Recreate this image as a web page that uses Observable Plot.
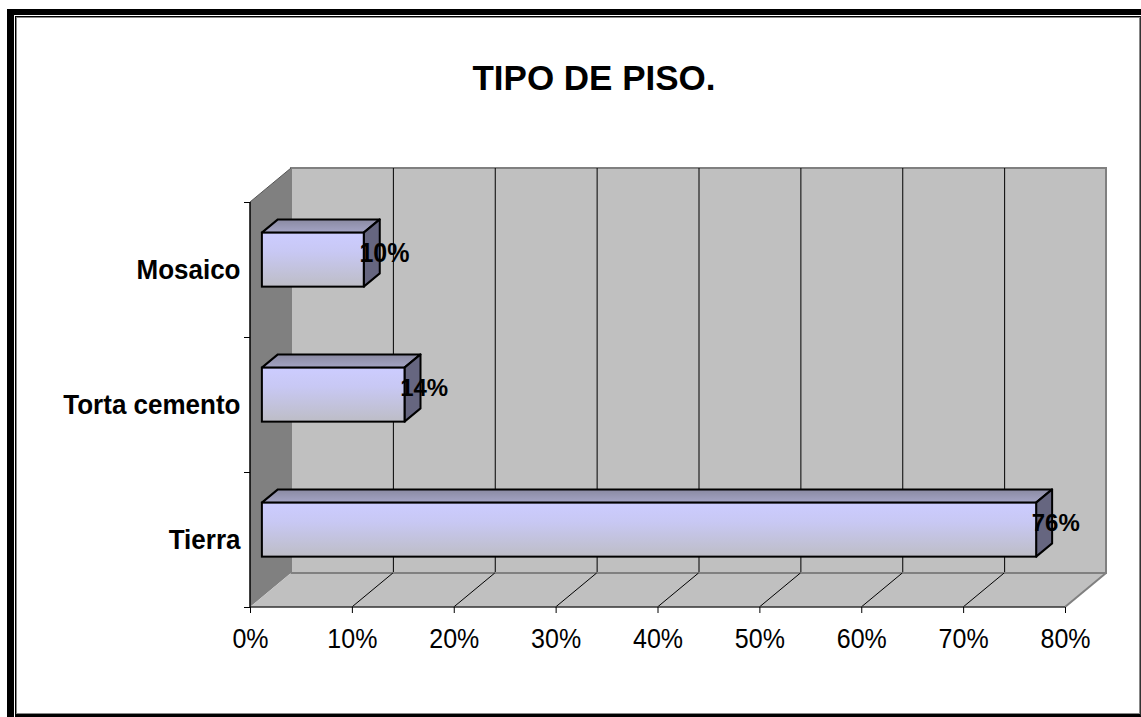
<!DOCTYPE html>
<html>
<head>
<meta charset="utf-8">
<script src="https://cdn.jsdelivr.net/npm/d3@7"></script>
<script src="https://cdn.jsdelivr.net/npm/@observablehq/plot@0.6"></script>
<style>
  html, body { margin: 0; padding: 0; background: #fff; }
  #wrap { position: relative; width: 1141px; height: 717px; overflow: hidden; font-family: "Liberation Sans", Arial, sans-serif; }
  #chart { position: absolute; left: 0; top: 0; }
  #title { position: absolute; left: 0; top: 60px; width: 1188px; text-align: center; font: bold 35px/35px "Liberation Sans", Arial, sans-serif; color: #000; }
  #outer { position: absolute; left: 7px; top: 9px; width: 1300px; height: 900px; box-sizing: border-box; border-left: 7px solid #000; border-top: 6px solid #000; }
  #inner { position: absolute; left: 15px; top: 16px; width: 1126px; height: 701px; box-sizing: border-box;
           border-left: 1px solid #000; border-top: 1px solid #000; border-right: 1px solid #333; border-bottom: 3px solid #000;
           box-shadow: inset 1px 1px 0 #888, inset -1px -1px 0 #888; }
</style>
</head>
<body>
<div id="wrap">
  <div id="chart"></div>
  <div id="title"></div>
  <div id="outer"></div>
  <div id="inner"></div>
</div>
<script>
// ---- data ----
const title = "TIPO DE PISO.";
const categories = ["Mosaico", "Torta cemento", "Tierra"];
const values = [0.10, 0.14, 0.76];
const valueLabels = ["10%", "14%", "76%"];
const xTicks = [0, 0.1, 0.2, 0.3, 0.4, 0.5, 0.6, 0.7, 0.8];
const xTickLabels = ["0%", "10%", "20%", "30%", "40%", "50%", "60%", "70%", "80%"];

document.getElementById("title").textContent = title;

const n = categories.length;
const rows = categories.map((c, i) => ({category: c, value: values[i], label: valueLabels[i], pos: n - i - 0.5}));
const gridTicks = xTicks.slice(1, -1);

// 3-D depth vector (pixels) and bar depth fraction
const DX = 41, DY = -34;
const F0 = 0.29, F1 = 0.68;
const HALF = 0.2; // half bar thickness in band units

const defs = () => {
  const d = d3.create("svg:defs");
  const g1 = d.append("linearGradient").attr("id", "barFront").attr("x1", 0).attr("y1", 0).attr("x2", 0).attr("y2", 1);
  g1.append("stop").attr("offset", "0%").attr("stop-color", "#ccccff");
  g1.append("stop").attr("offset", "35%").attr("stop-color", "#c8c8f4");
  g1.append("stop").attr("offset", "100%").attr("stop-color", "#bdbdc6");
  const g2 = d.append("linearGradient").attr("id", "barTop").attr("x1", 0).attr("y1", 0).attr("x2", 0).attr("y2", 1);
  g2.append("stop").attr("offset", "0%").attr("stop-color", "#8a8aa2");
  g2.append("stop").attr("offset", "100%").attr("stop-color", "#a4a4c4");
  return d.node();
};

const walls = (index, scales) => {
  const x = scales.x, y = scales.y;
  const x0 = x(xTicks[0]), x1 = x(xTicks[xTicks.length - 1]);
  const yb = y(0), yt = y(n);
  const g = d3.create("svg:g");
  const pts = a => a.map(p => p.join(",")).join(" ");
  g.append("polygon").attr("points", pts([[x0, yt], [x0 + DX, yt + DY], [x0 + DX, yb + DY], [x0, yb]]))
    .attr("fill", "#808080").attr("stroke", "none");
  g.append("line").attr("x1", x0).attr("y1", yt).attr("x2", x0 + DX).attr("y2", yt + DY).attr("stroke", "#555").attr("stroke-width", 1);
  g.append("polygon").attr("points", pts([[x0, yb], [x0 + DX, yb + DY], [x1 + DX, yb + DY], [x1, yb]]))
    .attr("fill", "#c0c0c0").attr("stroke", "none");
  g.append("line").attr("x1", x0 + DX).attr("y1", yb + DY).attr("x2", x1 + DX).attr("y2", yb + DY).attr("stroke", "#808080").attr("stroke-width", 2);
  g.append("line").attr("x1", x1 + DX).attr("y1", yb + DY).attr("x2", x1).attr("y2", yb).attr("stroke", "#808080").attr("stroke-width", 2);
  for (const t of gridTicks) {
    g.append("line").attr("x1", x(t) + DX).attr("y1", yb + DY).attr("x2", x(t)).attr("y2", yb).attr("stroke", "#000").attr("stroke-width", 1);
  }
  g.append("line").attr("x1", x0).attr("y1", yb).attr("x2", x1).attr("y2", yb).attr("stroke", "#333").attr("stroke-width", 1.5);
  g.append("line").attr("x1", x0).attr("y1", yt).attr("x2", x0).attr("y2", yb).attr("stroke", "#000").attr("stroke-width", 1.5);
  return g.node();
};

const barSides = (index, scales) => {
  const x = scales.x, y = scales.y;
  const g = d3.create("svg:g");
  const fx = DX * F0, fy = DY * F0;
  const bx = DX * (F1 - F0), by = DY * (F1 - F0);
  const pts = a => a.map(p => p.join(",")).join(" ");
  for (const r of rows) {
    const xl = x(0) + fx, xr = x(r.value) + fx;
    const yt = y(r.pos + HALF) + fy, ybt = y(r.pos - HALF) + fy;
    g.append("polygon").attr("points", pts([[xl, yt], [xl + bx, yt + by], [xr + bx, yt + by], [xr, yt]]))
      .attr("fill", "url(#barTop)").attr("stroke", "#000").attr("stroke-width", 2).attr("stroke-linejoin", "round");
    g.append("polygon").attr("points", pts([[xr, yt], [xr + bx, yt + by], [xr + bx, ybt + by], [xr, ybt]]))
      .attr("fill", "#666680").attr("stroke", "#000").attr("stroke-width", 2).attr("stroke-linejoin", "round");
  }
  return g.node();
};

const chart = Plot.plot({
  width: 1141,
  height: 717,
  marginLeft: 250,
  marginRight: 76,
  marginTop: 202,
  marginBottom: 110,
  x: {domain: [xTicks[0], xTicks[xTicks.length - 1]]},
  y: {domain: [0, n]},
  style: {background: "transparent", fontFamily: "'Liberation Sans', Arial, sans-serif", color: "#000", overflow: "visible"},
  marks: [
    defs,
    Plot.rect([0], {x1: xTicks[0], x2: xTicks[xTicks.length - 1], y1: 0, y2: n, dx: DX, dy: DY, fill: "#c0c0c0", stroke: "#808080", strokeWidth: 2}),
    Plot.ruleX(gridTicks, {y1: 0, y2: n, dx: DX, dy: DY, stroke: "#000", strokeWidth: 1}),
    walls,
    barSides,
    Plot.rect(rows, {x1: 0, x2: "value", y1: d => d.pos - HALF, y2: d => d.pos + HALF, dx: DX * F0, dy: DY * F0,
      fill: "url(#barFront)", stroke: "#000", strokeWidth: 2}),
    Plot.text(rows, {x: "value", y: "pos", text: "label", textAnchor: "start", lineAnchor: "middle", dx: 7, dy: -17,
      fontSize: 24, fontWeight: "bold", fill: "#000"}),
    Plot.text(rows, {x: 0, y: "pos", text: "category", textAnchor: "end", lineAnchor: "middle", dx: -10,
      fontSize: 26, fontWeight: "bold", fill: "#000"}),
    Plot.axisX({ticks: xTicks, tickFormat: d => xTickLabels[xTicks.indexOf(d)], tickSize: 6, tickPadding: 15,
      fontSize: 25, label: null, stroke: "#000"}),
    Plot.axisY({ticks: d3.range(n + 1), tickFormat: () => "", tickSize: 6, label: null, stroke: "#000"})
  ]
});
document.getElementById("chart").appendChild(chart);

// Excel renders these labels slightly stretched vertically: keep width, enlarge height
function stretch(t, size, factor) {
  t.style.fontSize = size + "px";
  const L = t.getComputedTextLength();
  t.style.fontSize = (size * factor) + "px";
  t.setAttribute("textLength", L);
  t.setAttribute("lengthAdjust", "spacingAndGlyphs");
}
chart.querySelectorAll("text").forEach(t => {
  const s = t.textContent;
  if (categories.includes(s)) stretch(t, 26, 1.08);
  else if (xTickLabels.includes(s)) stretch(t, 25, 1.12);
});
</script>
</body>
</html>
